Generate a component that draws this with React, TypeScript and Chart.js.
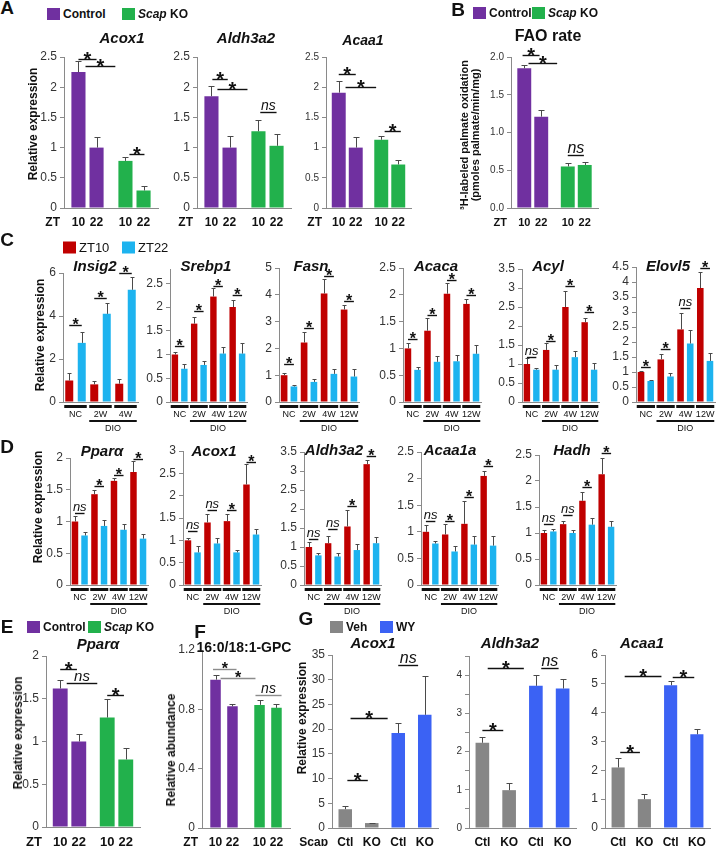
import React, { useEffect, useRef } from 'react';
import { Chart, registerables } from 'chart.js';

Chart.register(...registerables);

const FONT = '"Liberation Sans", Arial, Helvetica, sans-serif';
const PURPLE = '#7030a0';
const GREEN = '#22b14c';
const RED = '#c00000';
const CYAN = '#1db3ef';
const GRAY = '#868686';
const BLUE = '#3b62f4';
const AXIS = '#8a8a8a';
const ERR = '#4a4a4a';

// ---------------- Panel A / B / E / F : Control vs Scap KO at ZT10 / ZT22
const ztLabels = ['10', '22', '10', '22'];
const genotypes = ['Control', 'Scap KO'];

const aAcox1 = [2.25, 1.0, 0.78, 0.29];
const aAcox1Err = [0.19, 0.18, 0.07, 0.08];
const aAcox1Sig = ['*', '*', '*'];
const aAcox1SigY = [2.47, 2.35, 0.9];

const aAldh3a2 = [1.85, 1.0, 1.27, 1.03];
const aAldh3a2Err = [0.17, 0.19, 0.18, 0.2];
const aAldh3a2Sig = ['*', '*', 'ns'];
const aAldh3a2SigY = [2.13, 1.97, 1.59];

const aAcaa1 = [1.91, 1.0, 1.13, 0.72];
const aAcaa1Err = [0.19, 0.18, 0.07, 0.08];
const aAcaa1Sig = ['*', '*', '*'];
const aAcaa1SigY = [2.22, 2.0, 1.28];

const bFao = [1.85, 1.21, 0.55, 0.57];
const bFaoErr = [0.04, 0.09, 0.04, 0.04];
const bFaoSig = ['*', '*', 'ns'];
const bFaoSigY = [2.03, 1.92, 0.7];

const ePpara = [1.62, 1.0, 1.28, 0.79];
const ePparaErr = [0.1, 0.09, 0.22, 0.13];
const ePparaSig = ['*', 'ns', '*'];
const ePparaSigY = [1.85, 1.69, 1.54];

const fGpc = [1.0, 0.82, 0.83, 0.81];
const fGpcErr = [0.03, 0.015, 0.03, 0.025];
const fGpcSig = ['*', '*', 'ns'];
const fGpcSigY = [1.07, 1.01, 0.9];

// ---------------- Panel C : lipogenic genes, ZT10 vs ZT22, NC / DIO
const dietC3 = ['NC', '2W', '4W'];
const diet = ['NC', '2W', '4W', '12W'];

const cInsig2Zt10 = [1.0, 0.82, 0.85];
const cInsig2Zt10Err = [0.35, 0.16, 0.23];
const cInsig2Zt22 = [2.75, 4.1, 5.22];
const cInsig2Zt22Err = [0.52, 0.52, 0.58];
const cInsig2Sig = ['*', '*', '*'];
const cInsig2SigY = [3.58, 4.84, 6.0];

const cSrebp1Zt10 = [1.0, 1.65, 2.22, 2.0];
const cSrebp1Zt10Err = [0.05, 0.13, 0.18, 0.15];
const cSrebp1Zt22 = [0.7, 0.78, 1.02, 1.02];
const cSrebp1Zt22Err = [0.1, 0.08, 0.13, 0.23];
const cSrebp1Sig = ['*', '*', '*', '*'];
const cSrebp1SigY = [1.17, 1.92, 2.44, 2.25];

const cFasnZt10 = [1.0, 2.22, 4.05, 3.45];
const cFasnZt10Err = [0.08, 0.38, 0.55, 0.17];
const cFasnZt22 = [0.58, 0.75, 1.05, 0.95];
const cFasnZt22Err = [0.07, 0.1, 0.2, 0.27];
const cFasnSig = ['*', '*', '*', '*'];
const cFasnSigY = [1.42, 2.77, 4.7, 3.78];

const cAcacaZt10 = [1.0, 1.33, 2.02, 1.83];
const cAcacaZt10Err = [0.1, 0.24, 0.2, 0.1];
const cAcacaZt22 = [0.6, 0.75, 0.76, 0.9];
const cAcacaZt22Err = [0.05, 0.11, 0.12, 0.16];
const cAcacaSig = ['*', '*', '*', '*'];
const cAcacaSigY = [1.17, 1.62, 2.28, 2.0];

const cAcylZt10 = [1.0, 1.37, 2.5, 2.1];
const cAcylZt10Err = [0.15, 0.17, 0.43, 0.1];
const cAcylZt22 = [0.85, 0.85, 1.18, 0.85];
const cAcylZt22Err = [0.05, 0.12, 0.17, 0.17];
const cAcylSig = ['ns', '*', '*', '*'];
const cAcylSigY = [1.18, 1.6, 3.05, 2.37];

const cElovl5Zt10 = [1.0, 1.42, 2.42, 3.8];
const cElovl5Zt10Err = [0.03, 0.18, 0.55, 0.55];
const cElovl5Zt22 = [0.7, 0.85, 1.95, 1.37];
const cElovl5Zt22Err = [0.05, 0.13, 0.45, 0.28];
const cElovl5Sig = ['*', '*', 'ns', '*'];
const cElovl5SigY = [1.17, 1.77, 3.13, 4.47];

// ---------------- Panel D : FAO genes, ZT10 vs ZT22, NC / DIO
const dPparaZt10 = [1.0, 1.43, 1.64, 1.78];
const dPparaZt10Err = [0.08, 0.07, 0.05, 0.17];
const dPparaZt22 = [0.78, 0.93, 0.87, 0.73];
const dPparaZt22Err = [0.06, 0.09, 0.09, 0.07];
const dPparaSig = ['ns', '*', '*', '*'];
const dPparaSigY = [1.14, 1.56, 1.73, 1.98];

const dAcox1Zt10 = [1.0, 1.4, 1.43, 2.25];
const dAcox1Zt10Err = [0.05, 0.18, 0.15, 0.47];
const dAcox1Zt22 = [0.73, 0.93, 0.73, 1.13];
const dAcox1Zt22Err = [0.15, 0.13, 0.05, 0.13];
const dAcox1Sig = ['ns', 'ns', '*', '*'];
const dAcox1SigY = [1.2, 1.67, 1.69, 2.75];

const dAldh3a2Zt10 = [1.0, 1.1, 1.54, 3.18];
const dAldh3a2Zt10Err = [0.13, 0.2, 0.44, 0.12];
const dAldh3a2Zt22 = [0.78, 0.75, 0.92, 1.1];
const dAldh3a2Zt22Err = [0.06, 0.09, 0.15, 0.17];
const dAldh3a2Sig = ['ns', 'ns', '*', '*'];
const dAldh3a2SigY = [1.2, 1.47, 2.08, 3.4];

const dAcaa1aZt10 = [1.0, 0.95, 1.15, 2.05];
const dAcaa1aZt10Err = [0.13, 0.2, 0.43, 0.09];
const dAcaa1aZt22 = [0.78, 0.63, 0.76, 0.74];
const dAcaa1aZt22Err = [0.05, 0.1, 0.17, 0.18];
const dAcaa1aSig = ['ns', '*', '*', '*'];
const dAcaa1aSigY = [1.2, 1.2, 1.65, 2.24];

const dHadhZt10 = [1.0, 1.17, 1.62, 2.13];
const dHadhZt10Err = [0.06, 0.06, 0.16, 0.32];
const dHadhZt22 = [1.03, 1.0, 1.16, 1.12];
const dHadhZt22Err = [0.05, 0.05, 0.12, 0.11];
const dHadhSig = ['ns', 'ns', '*', '*'];
const dHadhSigY = [1.17, 1.35, 1.88, 2.54];

// ---------------- Panel G : Veh vs WY, Scap Ctl / KO
const gLabels = ['Ctl', 'KO', 'Ctl', 'KO'];
const gAcox1 = [3.8, 1.0, 19.2, 22.9];
const gAcox1Err = [0.7, 0.1, 2.1, 7.8];
const gAcox1Sig = ['*', '*', 'ns'];
const gAcox1SigY = [9.7, 22.2, 33];

const gAldh3a2 = [2.23, 0.99, 3.72, 3.65];
const gAldh3a2Err = [0.15, 0.18, 0.28, 0.25];
const gAldh3a2Sig = ['*', '*', 'ns'];
const gAldh3a2SigY = [2.57, 4.18, 4.18];

const gAcaa1 = [2.1, 1.0, 4.95, 3.25];
const gAcaa1Err = [0.33, 0.18, 0.15, 0.2];
const gAcaa1Sig = ['*', '*', '*'];
const gAcaa1SigY = [2.63, 5.28, 5.25];

// ---------------- builders
type SetT = { data: number[]; err: number[]; color: string | string[] };
type Br = { a: number; b: number; y: number; t: string };
type Spec = {
  x: number; w: number; top: number; bottom: number;
  max: number; step: number; labelStep?: number; dec?: number; tick: number;
  cats: string[]; sets: SetT[]; cp: number; bp: number; cap: number;
  br: Br[]; brColor?: string; star: number; ns: number;
  mode: 'bars' | 'groups'; barLabels?: string[]; prefix?: string; xFont?: number; dio?: number;
};

function genoSets(v: number[], e: number[]): SetT[] {
  return [
    { data: [v[0], v[2]], err: [e[0], e[2]], color: [PURPLE, GREEN] },
    { data: [v[1], v[3]], err: [e[1], e[3]], color: [PURPLE, GREEN] },
  ];
}
function ztSets(a: number[], ae: number[], b: number[], be: number[]): SetT[] {
  return [
    { data: a, err: ae, color: RED },
    { data: b, err: be, color: CYAN },
  ];
}
function brs(spans: number[][], labels: string[], ys: number[]): Br[] {
  return labels.map((t, i) => ({ a: spans[i][0], b: spans[i][1], y: ys[i], t }));
}
function pairSpans(n: number) {
  return Array.from({ length: n }, (_, i) => [2 * i, 2 * i + 1]);
}

const genoBase = { cats: genotypes, mode: 'bars' as const, barLabels: ztLabels, prefix: 'ZT', xFont: 12, cap: 6, star: 20, ns: 14 };
const dietBase = { mode: 'groups' as const, cp: 0.98, bp: 0.68, cap: 4, star: 16, ns: 13, tick: 12, dio: 1 };
const gBase = { cats: gLabels, mode: 'bars' as const, barLabels: gLabels, xFont: 12, cp: 1, bp: 0.51, cap: 6, star: 20, ns: 16 };

const specs: Spec[] = [
  // A
  { ...genoBase, x: 64, w: 94, top: 57, bottom: 208, max: 2.5, step: 0.5, tick: 12, cp: 0.77, bp: 0.78,
    sets: genoSets(aAcox1, aAcox1Err), br: brs([[0, 1], [0.39, 1.65], [2.22, 3.05]], aAcox1Sig, aAcox1SigY) },
  { ...genoBase, x: 197, w: 94, top: 57, bottom: 208, max: 2.5, step: 0.5, tick: 12, cp: 0.77, bp: 0.78,
    sets: genoSets(aAldh3a2, aAldh3a2Err), br: brs([[0.05, 0.9], [0.33, 1.62], [2.1, 3]], aAldh3a2Sig, aAldh3a2SigY) },
  { ...genoBase, x: 326, w: 85, top: 57, bottom: 208, max: 2.5, step: 0.5, tick: 10, cp: 0.8, bp: 0.82,
    sets: genoSets(aAcaa1, aAcaa1Err), br: brs([[0, 1], [0.4, 1.8], [2.2, 3.15]], aAcaa1Sig, aAcaa1SigY) },
  // B
  { ...genoBase, x: 511, w: 87, top: 57, bottom: 208, max: 2, step: 0.5, dec: 1, tick: 10, cp: 0.78, bp: 0.82, ns: 16, xFont: 11,
    sets: genoSets(bFao, bFaoErr), br: brs([[-0.1, 0.9], [0.25, 1.6], [2, 2.95]], bFaoSig, bFaoSigY) },
  // C
  { ...dietBase, cats: dietC3, x: 62.5, w: 75, top: 273, bottom: 402, max: 6, step: 2, cp: 1, bp: 0.64,
    sets: ztSets(cInsig2Zt10, cInsig2Zt10Err, cInsig2Zt22, cInsig2Zt22Err), br: brs(pairSpans(3), cInsig2Sig, cInsig2SigY) },
  { ...dietBase, cats: diet, x: 170, w: 77, top: 269, bottom: 402, max: 2.8, step: 0.5,
    sets: ztSets(cSrebp1Zt10, cSrebp1Zt10Err, cSrebp1Zt22, cSrebp1Zt22Err), br: brs(pairSpans(4), cSrebp1Sig, cSrebp1SigY) },
  { ...dietBase, cats: diet, x: 279, w: 80, top: 268, bottom: 402, max: 5, step: 1,
    sets: ztSets(cFasnZt10, cFasnZt10Err, cFasnZt22, cFasnZt22Err), br: brs(pairSpans(4), cFasnSig, cFasnSigY) },
  { ...dietBase, cats: diet, x: 403, w: 78, top: 268, bottom: 402, max: 2.5, step: 0.5,
    sets: ztSets(cAcacaZt10, cAcacaZt10Err, cAcacaZt22, cAcacaZt22Err), br: brs(pairSpans(4), cAcacaSig, cAcacaSigY) },
  { ...dietBase, cats: diet, x: 522, w: 77, top: 269, bottom: 402, max: 3.5, step: 0.5,
    sets: ztSets(cAcylZt10, cAcylZt10Err, cAcylZt22, cAcylZt22Err), br: brs(pairSpans(4), cAcylSig, cAcylSigY) },
  { ...dietBase, cats: diet, x: 636, w: 79, top: 267, bottom: 402, max: 4.5, step: 0.5,
    sets: ztSets(cElovl5Zt10, cElovl5Zt10Err, cElovl5Zt22, cElovl5Zt22Err), br: brs(pairSpans(4), cElovl5Sig, cElovl5SigY) },
  // D
  { ...dietBase, cats: diet, x: 70, w: 78, top: 458, bottom: 585, max: 2, step: 0.5,
    sets: ztSets(dPparaZt10, dPparaZt10Err, dPparaZt22, dPparaZt22Err), br: brs(pairSpans(4), dPparaSig, dPparaSigY) },
  { ...dietBase, cats: diet, x: 183, w: 78, top: 451, bottom: 585, max: 3, step: 0.5,
    sets: ztSets(dAcox1Zt10, dAcox1Zt10Err, dAcox1Zt22, dAcox1Zt22Err), br: brs(pairSpans(4), dAcox1Sig, dAcox1SigY) },
  { ...dietBase, cats: diet, x: 304, w: 77, top: 452, bottom: 585, max: 3.5, step: 0.5,
    sets: ztSets(dAldh3a2Zt10, dAldh3a2Zt10Err, dAldh3a2Zt22, dAldh3a2Zt22Err), br: brs(pairSpans(4), dAldh3a2Sig, dAldh3a2SigY) },
  { ...dietBase, cats: diet, x: 421, w: 77, top: 452, bottom: 585, max: 2.5, step: 0.5,
    sets: ztSets(dAcaa1aZt10, dAcaa1aZt10Err, dAcaa1aZt22, dAcaa1aZt22Err), br: brs(pairSpans(4), dAcaa1aSig, dAcaa1aSigY) },
  { ...dietBase, cats: diet, x: 539, w: 77, top: 455, bottom: 585, max: 2.5, step: 0.5,
    sets: ztSets(dHadhZt10, dHadhZt10Err, dHadhZt22, dHadhZt22Err), br: brs(pairSpans(4), dHadhSig, dHadhSigY) },
  // E
  { ...genoBase, x: 46, w: 94, top: 656, bottom: 827, max: 2, step: 0.5, tick: 12, cp: 0.79, bp: 0.8, ns: 15, xFont: 13,
    sets: genoSets(ePpara, ePparaErr), br: brs([[0, 0.9], [0.35, 1.65], [2, 2.9]], ePparaSig, ePparaSigY) },
  // F
  { ...genoBase, x: 202, w: 88, top: 650, bottom: 828, max: 1.2, step: 0.4, tick: 12, cp: 0.77, bp: 0.62, star: 16, ns: 14, brColor: '#8c8c8c',
    sets: genoSets(fGpc, fGpcErr), br: brs([[-0.15, 1.15], [0.3, 1.85], [1.85, 3.3]], fGpcSig, fGpcSigY) },
  // G
  { ...gBase, x: 332, w: 106, top: 655, bottom: 828, max: 35, step: 5, tick: 12, prefix: 'Scap',
    sets: [{ data: gAcox1, err: gAcox1Err, color: [GRAY, GRAY, BLUE, BLUE] }], br: brs([[0.08, 0.85], [0.2, 1.6], [2, 2.75]], gAcox1Sig, gAcox1SigY) },
  { ...gBase, x: 469, w: 107, top: 656, bottom: 828, max: 4.5, step: 0.5, labelStep: 1, tick: 10,
    sets: [{ data: gAldh3a2, err: gAldh3a2Err, color: [GRAY, GRAY, BLUE, BLUE] }], br: brs([[0, 0.78], [0.2, 1.55], [2.2, 2.85]], gAldh3a2Sig, gAldh3a2SigY) },
  { ...gBase, x: 605, w: 105, top: 655, bottom: 828, max: 6, step: 1, tick: 12, bp: 0.5,
    sets: [{ data: gAcaa1, err: gAcaa1Err, color: [GRAY, GRAY, BLUE, BLUE] }], br: brs([[0.08, 0.83], [0.25, 1.65], [2.08, 2.9]], gAcaa1Sig, gAcaa1SigY) },
];

const isMult = (v: number, s: number) => Math.abs(v / s - Math.round(v / s)) < 1e-6;

function makePlugin(s: Spec) {
  return {
    id: 'extras',
    afterDatasetsDraw(chart: any) {
      const ctx = chart.ctx;
      const ys = chart.scales.y;
      const area = chart.chartArea;
      ctx.save();
      // error bars (upper whisker)
      ctx.strokeStyle = ERR;
      ctx.lineWidth = 1;
      s.sets.forEach((set, d) => {
        const meta = chart.getDatasetMeta(d);
        meta.data.forEach((el: any, c: number) => {
          const yt = Math.round(ys.getPixelForValue(set.data[c] + set.err[c])) + 0.5;
          const xx = Math.round(el.x) + 0.5;
          ctx.beginPath();
          ctx.moveTo(xx, el.y);
          ctx.lineTo(xx, yt);
          ctx.moveTo(xx - s.cap / 2, yt);
          ctx.lineTo(xx + s.cap / 2, yt);
          ctx.stroke();
        });
      });
      // bar centres in order
      const xs: number[] = [];
      const ws: number[] = [];
      s.cats.forEach((_, c) => s.sets.forEach((_, d) => {
        const el = chart.getDatasetMeta(d).data[c];
        xs.push(el.x);
        ws.push(el.width);
      }));
      const at = (t: number) => {
        let i = Math.floor(t);
        if (i < 0) i = 0;
        if (i > xs.length - 2) i = xs.length - 2;
        return xs[i] + (xs[i + 1] - xs[i]) * (t - i);
      };
      // significance brackets
      s.br.forEach((b) => {
        const x1 = at(b.a), x2 = at(b.b);
        const yy = Math.round(ys.getPixelForValue(b.y)) + 0.5;
        ctx.strokeStyle = s.brColor || '#111';
        ctx.lineWidth = 1.4;
        ctx.beginPath();
        ctx.moveTo(x1, yy);
        ctx.lineTo(x2, yy);
        ctx.stroke();
        const xm = (x1 + x2) / 2;
        ctx.fillStyle = '#111';
        ctx.textAlign = 'center';
        ctx.textBaseline = 'alphabetic';
        if (b.t === '*') {
          ctx.font = `bold ${s.star}px ${FONT}`;
          ctx.fillText('*', xm, yy - 2.5 + 0.44 * s.star);
        } else {
          ctx.font = `italic ${s.ns}px ${FONT}`;
          ctx.fillText(b.t, xm, yy - 3);
        }
      });
      // x labels
      ctx.fillStyle = '#111';
      ctx.textBaseline = 'middle';
      if (s.mode === 'bars') {
        ctx.font = `bold ${s.xFont}px ${FONT}`;
        ctx.textAlign = 'center';
        const ly = area.bottom + 15;
        (s.barLabels || []).forEach((t, i) => ctx.fillText(t, xs[i], ly));
        if (s.prefix) {
          ctx.textAlign = 'right';
          ctx.fillText(s.prefix, area.left - 4, ly);
        }
      } else {
        const nd = s.sets.length;
        const gl: number[] = [], gr: number[] = [];
        s.cats.forEach((t, c) => {
          const l = xs[c * nd] - ws[c * nd] / 2 - 1;
          const r = xs[c * nd + nd - 1] + ws[c * nd + nd - 1] / 2 + 1;
          gl.push(l); gr.push(r);
          ctx.fillStyle = '#111';
          ctx.fillRect(l, area.bottom + 3, r - l, 3);
          ctx.font = `9px ${FONT}`;
          ctx.textAlign = 'center';
          ctx.fillText(t, (l + r) / 2, area.bottom + 13);
        });
        if (s.dio != null) {
          const l = gl[s.dio], r = gr[gr.length - 1];
          ctx.fillRect(l, area.bottom + 18, r - l, 2);
          ctx.font = `9px ${FONT}`;
          ctx.fillText('DIO', (l + r) / 2, area.bottom + 27);
        }
      }
      ctx.restore();
    },
  };
}

const LM = 45, TM = 30, BM = 45, RM = 12;

function BarChart({ s }: { s: Spec }) {
  const ref = useRef<HTMLCanvasElement>(null);
  const W = LM + s.w + RM;
  const H = TM + (s.bottom - s.top) + BM;
  useEffect(() => {
    const chart = new Chart(ref.current as HTMLCanvasElement, {
      type: 'bar',
      data: {
        labels: s.cats,
        datasets: s.sets.map((set) => ({
          data: set.data,
          backgroundColor: set.color as any,
          borderWidth: 0,
          categoryPercentage: s.cp,
          barPercentage: s.bp,
        })),
      },
      options: {
        animation: false,
        responsive: false,
        maintainAspectRatio: false,
        events: [],
        layout: { padding: { top: TM, right: RM, left: 0, bottom: 0 } },
        plugins: { legend: { display: false }, tooltip: { enabled: false }, title: { display: false } },
        scales: {
          x: {
            type: 'category',
            offset: true,
            grid: { display: false },
            border: { display: true, color: AXIS, width: 1 },
            ticks: { display: false },
            afterFit: (sc: any) => { sc.height = BM; },
          },
          y: {
            type: 'linear',
            min: 0,
            max: s.max,
            grid: { drawOnChartArea: false, drawTicks: true, tickLength: 4, color: AXIS },
            border: { display: true, color: AXIS, width: 1 },
            ticks: {
              stepSize: s.step,
              autoSkip: false,
              padding: 3,
              color: '#333',
              font: { family: FONT, size: s.tick },
              callback: (v: any) => {
                const n = Number(v);
                if (s.labelStep && !isMult(n, s.labelStep)) return '';
                if (s.dec != null) return n.toFixed(s.dec);
                return String(parseFloat(n.toFixed(3)));
              },
            },
            afterBuildTicks: (sc: any) => { sc.ticks = sc.ticks.filter((t: any) => isMult(t.value, s.step)); },
            afterFit: (sc: any) => { sc.width = LM; },
          },
        },
      } as any,
      plugins: [makePlugin(s) as any],
    });
    return () => chart.destroy();
  }, []);
  return (
    <canvas
      ref={ref}
      width={W}
      height={H}
      style={{ position: 'absolute', left: s.x - LM, top: s.top - TM, width: W, height: H }}
    />
  );
}

type TxtP = { t: React.ReactNode; x: number; y: number; size: number; bold?: boolean; italic?: boolean; rot?: boolean };
function Txt({ t, x, y, size, bold, italic, rot }: TxtP) {
  return (
    <div
      style={{
        position: 'absolute', left: x, top: y,
        transform: `translate(-50%,-50%)${rot ? ' rotate(-90deg)' : ''}`,
        whiteSpace: 'nowrap', fontFamily: FONT, fontSize: size,
        fontWeight: bold ? 700 : 400, fontStyle: italic ? 'italic' : 'normal',
        color: '#111', lineHeight: 1,
      }}
    >
      {t}
    </div>
  );
}

function Leg({ x, y, color, label, size, bold }: { x: number; y: number; color: string; label: React.ReactNode; size: number; bold?: boolean }) {
  return (
    <div style={{ position: 'absolute', left: x, top: y, transform: 'translateY(-50%)', display: 'flex', alignItems: 'center', whiteSpace: 'nowrap' }}>
      <span style={{ display: 'inline-block', width: 13, height: 12, background: color, marginRight: 3 }} />
      <span style={{ fontFamily: FONT, fontSize: size, fontWeight: bold ? 700 : 400, color: '#111', lineHeight: 1 }}>{label}</span>
    </div>
  );
}

const scapKO = (<><i>Scap</i> KO</>);

export default function App() {
  const letters: [string, number, number][] = [
    ['A', 7, 7], ['B', 458, 9], ['C', 7, 239], ['D', 7, 446], ['E', 7, 626], ['F', 200, 631], ['G', 306, 618],
  ];
  const titles: [string, number, number, number][] = [
    ['Acox1', 122, 37, 15], ['Aldh3a2', 246, 37, 15], ['Acaa1', 363, 40, 14],
    ['Insig2', 95, 265, 15], ['Srebp1', 206, 265, 15], ['Fasn', 311, 265, 15], ['Acaca', 436, 265, 15], ['Acyl', 548, 265, 15], ['Elovl5', 668, 265, 15],
    ['Pparα', 102, 450, 15], ['Acox1', 214, 450, 15], ['Aldh3a2', 334, 449, 15], ['Acaa1a', 450, 449, 15], ['Hadh', 572, 449, 15],
    ['Pparα', 98, 643, 15],
    ['Acox1', 373, 642, 15], ['Aldh3a2', 510, 642, 15], ['Acaa1', 642, 642, 15],
  ];
  return (
    <div style={{ position: 'absolute', left: 0, top: 0, width: 718, height: 846, background: '#fff', overflow: 'hidden' }}>
      {specs.map((s, i) => <BarChart key={i} s={s} />)}
      {letters.map(([t, x, y]) => <Txt key={t} t={t} x={x} y={y} size={19} bold />)}
      {titles.map(([t, x, y, sz], i) => <Txt key={'t' + i} t={t} x={x} y={y} size={sz} bold italic />)}
      <Txt t="FAO rate" x={548} y={36} size={16} bold />
      <Txt t="16:0/18:1-GPC" x={244} y={647} size={14} bold />
      {/* y axis titles */}
      <Txt t="Relative expression" x={33} y={124} size={12} bold rot />
      <Txt t="³H-labeled palmate oxidation" x={464} y={135} size={11} bold rot />
      <Txt t="(pmoles palmate/min/mg)" x={475} y={135} size={11} bold rot />
      <Txt t="Relative expression" x={40} y={335} size={12} bold rot />
      <Txt t="Relative expression" x={38} y={507} size={12} bold rot />
      <Txt t="Relative expression" x={18} y={733} size={12} bold rot />
      <Txt t="Relative abundance" x={171} y={750} size={12} bold rot />
      <Txt t="Relative expression" x={302} y={718} size={12} bold rot />
      {/* legends */}
      <Leg x={47} y={14} color={PURPLE} label="Control" size={12} bold />
      <Leg x={122} y={14} color={GREEN} label={scapKO} size={12} bold />
      <Leg x={473} y={13} color={PURPLE} label="Control" size={12} bold />
      <Leg x={532} y={13} color={GREEN} label={scapKO} size={12} bold />
      <Leg x={63} y={247} color={RED} label="ZT10" size={13} />
      <Leg x={122} y={247} color={CYAN} label="ZT22" size={13} />
      <Leg x={27} y={627} color={PURPLE} label="Control" size={12} bold />
      <Leg x={88} y={627} color={GREEN} label={scapKO} size={12} bold />
      <Leg x={330} y={627} color={GRAY} label="Veh" size={12} bold />
      <Leg x={380} y={627} color={BLUE} label="WY" size={12} bold />
    </div>
  );
}
